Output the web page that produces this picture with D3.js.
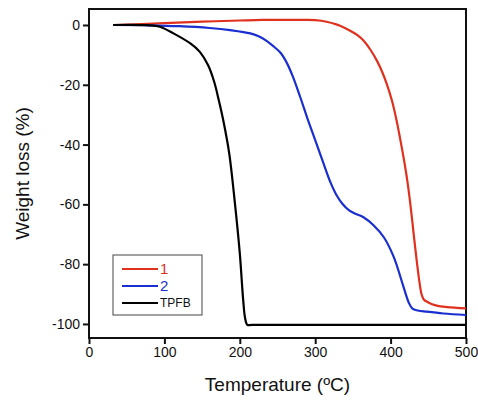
<!DOCTYPE html>
<html>
<head>
<meta charset="utf-8">
<script src="https://cdn.jsdelivr.net/npm/d3@7"></script>
<style>
  body { margin: 0; background: #fff; }
  svg { display: block; font-family: "Liberation Sans", Arial, sans-serif; }
</style>
</head>
<body>
<div class="chart"></div>
<script>
// TGA data: temperature (ºC) and weight loss (%)
const seriesNames = ["1", "2", "TPFB"];
const seriesColors = ["#e0301e", "#1a2fcf", "#000000"];

const temp1 = [32, 100, 150, 200, 230, 285, 300, 315, 328, 338, 347, 356, 364, 373, 382, 389, 395, 402, 408, 413, 418, 422, 426, 430, 434, 438, 441, 444, 450, 460, 475, 500];
const loss1 = [0, 0.6, 1.1, 1.5, 1.7, 1.7, 1.6, 1.1, 0.2, -0.8, -2, -3.4, -5.2, -8.2, -12, -15.8, -19.8, -25.5, -32, -38.5, -45.5, -51.8, -59.5, -68.5, -77.5, -85.5, -90, -91.8, -92.8, -93.8, -94.4, -94.8];

const temp2 = [32, 80, 120, 160, 187, 214, 225, 235, 245, 254, 262, 270, 280, 290, 300, 311, 320, 328, 336, 345, 355, 364, 377, 391, 404, 417, 424, 429, 436, 448, 470, 500];
const loss2 = [0, -0.1, -0.4, -1, -1.7, -2.8, -3.8, -5.2, -7.2, -9.3, -12.5, -17, -24, -31.5, -38.5, -46.3, -52.5, -56.8, -59.8, -62, -63.3, -64.3, -66.9, -71, -77.5, -87.5, -92.8, -94.9, -95.5, -95.9, -96.5, -97];

const tempT = [32, 80, 94, 112, 134, 147, 158, 166, 172, 178, 186, 193.5, 200, 204.5, 207, 210, 216, 500];
const lossT = [0, -0.1, -0.6, -2.8, -6.1, -9, -13.5, -19, -25, -31.8, -43, -59.6, -76.4, -92, -98, -100.3, -100.3, -100.3];

const xTicks = [0, 100, 200, 300, 400, 500];
const yTicks = [0, -20, -40, -60, -80, -100];

const width = 478, height = 400;
const margin = {top: 9, right: 12, bottom: 62, left: 89};

const svg = d3.select(".chart").append("svg").attr("width", width).attr("height", height);

const x = d3.scaleLinear().domain([0, 500]).range([margin.left, width - margin.right]);
const y = d3.scaleLinear().domain([-104.7, 5.35]).range([height - margin.bottom, margin.top]);

// frame
svg.append("rect")
  .attr("x", margin.left).attr("y", margin.top)
  .attr("width", x(500) - x(0)).attr("height", y(-104.7) - y(5.35))
  .attr("fill", "none").attr("stroke", "#111").attr("stroke-width", 2);

// axes (plain hyphen for negatives, like the original)
const xAxis = svg.append("g")
  .attr("transform", `translate(0,${y(-104.7)})`)
  .call(d3.axisBottom(x).tickValues(xTicks).tickFormat(d => String(d)).tickSize(6).tickPadding(3));
const yAxis = svg.append("g")
  .attr("transform", `translate(${x(0)},0)`)
  .call(d3.axisLeft(y).tickValues(yTicks).tickFormat(d => String(d)).tickSize(6).tickPadding(3));

[xAxis, yAxis].forEach(g => {
  g.select(".domain").remove();
  g.selectAll(".tick line").attr("stroke", "#111").attr("stroke-width", 2);
  g.selectAll(".tick text").attr("fill", "#111").style("font-size", "14px")
    .style("font-family", "'Liberation Sans', Arial, sans-serif");
});

// curves
const line = d3.line().x(d => x(d[0])).y(d => y(d[1])).curve(d3.curveCatmullRom.alpha(0.5));
const series = [
  d3.zip(temp1, loss1),
  d3.zip(temp2, loss2),
  d3.zip(tempT, lossT)
];
series.forEach((pts, i) => {
  svg.append("path").datum(pts)
    .attr("d", line)
    .attr("fill", "none")
    .attr("stroke", seriesColors[i])
    .attr("stroke-width", 2.2)
    .attr("stroke-linejoin", "round");
});

// legend
const legend = svg.append("g").attr("transform", "translate(113,255)");
legend.append("rect").attr("width", 89).attr("height", 60)
  .attr("fill", "#fff").attr("stroke", "#444").attr("stroke-width", 1);
seriesNames.forEach((name, i) => {
  const ly = 14 + i * 17;
  legend.append("line").attr("x1", 9).attr("x2", 45).attr("y1", ly).attr("y2", ly)
    .attr("stroke", seriesColors[i]).attr("stroke-width", 2);
  legend.append("text").attr("x", 47).attr("y", ly + (i < 2 ? 5 : 4))
    .attr("fill", i < 2 ? seriesColors[i] : "#111")
    .style("font-size", i < 2 ? "15px" : "12px")
    .text(name);
});

// axis titles
svg.append("text")
  .attr("x", (x(0) + x(500)) / 2).attr("y", 391)
  .attr("text-anchor", "middle").style("font-size", "19px").attr("fill", "#111")
  .text("Temperature (ºC)");
svg.append("text")
  .attr("transform", `translate(29,${(y(5.35) + y(-104.7)) / 2}) rotate(-90)`)
  .attr("text-anchor", "middle").style("font-size", "19px").attr("fill", "#111")
  .text("Weight loss (%)");
</script>
</body>
</html>
